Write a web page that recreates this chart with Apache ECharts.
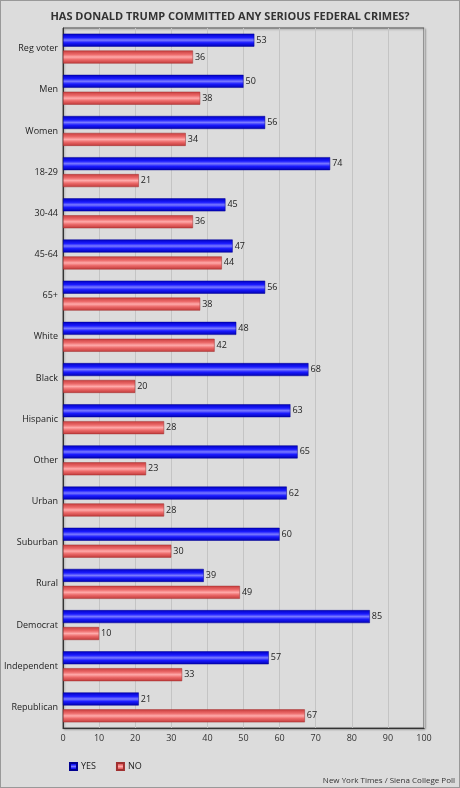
<!DOCTYPE html>
<html>
<head>
<meta charset="utf-8">
<script src="https://cdn.jsdelivr.net/npm/echarts@6/dist/echarts.min.js"></script>
<style>
html,body{margin:0;padding:0;background:#dcdcdc;}
#c{width:460px;height:788px;box-sizing:border-box;border:1px solid #999;}
</style>
</head>
<body>
<div id="c"></div>
<script>
const categories = ["Reg voter","Men","Women","18-29","30-44","45-64","65+","White","Black","Hispanic","Other","Urban","Suburban","Rural","Democrat","Independent","Republican"];
const yesValues = [53,50,56,74,45,47,56,48,68,63,65,62,60,39,85,57,21];
const noValues  = [36,38,34,21,36,44,38,42,20,28,23,28,30,49,10,33,67];
const xTicks = [0,10,20,30,40,50,60,70,80,90,100];

const font = "'Open Sans', sans-serif";
const chart = echarts.init(document.getElementById('c'));
const blueGrad = new echarts.graphic.LinearGradient(0,0,0,1,[
  {offset:0,color:'#0000c0'},{offset:0.3,color:'#1a1aff'},{offset:0.5,color:'#7a7aff'},
  {offset:0.7,color:'#1a1aff'},{offset:1,color:'#0000b0'}]);
const redGrad = new echarts.graphic.LinearGradient(0,0,0,1,[
  {offset:0,color:'#c83c3c'},{offset:0.3,color:'#ec6a6a'},{offset:0.5,color:'#ffaaaa'},
  {offset:0.7,color:'#ec6a6a'},{offset:1,color:'#c03838'}]);

chart.setOption({
  backgroundColor:'#dcdcdc',
  animation:false,
  textStyle:{fontFamily:font},
  title:{text:'HAS DONALD TRUMP COMMITTED ANY SERIOUS FEDERAL CRIMES?',left:'center',top:5,
    textStyle:{fontSize:11,fontWeight:'bold',color:'#333',fontFamily:font}},
  grid:{left:62,right:35,top:27,bottom:59,show:true,borderColor:'#555',borderWidth:1,
    shadowColor:'rgba(0,0,0,0.35)',shadowBlur:2,shadowOffsetX:1,shadowOffsetY:1,backgroundColor:'#dcdcdc'},
  legend:{data:['YES','NO'],left:63,top:756,itemWidth:7,itemHeight:7,itemGap:20,icon:'rect',
    textStyle:{fontSize:9,color:'#222',fontFamily:font,padding:[0,0,0,-1]}},
  graphic:[{type:'text',right:4,bottom:2,style:{text:'New York Times / Siena College Poll',fontSize:8,fill:'#333',fontFamily:font}}],
  xAxis:{type:'value',min:0,max:100,interval:10,
    axisLine:{show:true,lineStyle:{color:'#333'}},axisTick:{show:false},
    axisLabel:{fontSize:9,color:'#333',margin:6,fontFamily:font,
      formatter:v=>xTicks.includes(v)?String(v):''},
    splitLine:{show:true,lineStyle:{color:'#c4c4c4'}}},
  yAxis:{type:'category',data:categories,inverse:true,
    axisLine:{show:true,lineStyle:{color:'#333'}},axisTick:{show:false},
    axisLabel:{fontSize:9,color:'#222',margin:5,fontFamily:font}},
  series:[
    {name:'YES',type:'bar',data:yesValues,barWidth:13,barGap:'30%',
      itemStyle:{color:blueGrad,borderColor:'#000090',borderWidth:0.5},
      label:{show:true,position:'right',distance:2,fontSize:9,color:'#222',fontFamily:font}},
    {name:'NO',type:'bar',data:noValues,barWidth:13,
      itemStyle:{color:redGrad,borderColor:'#a03030',borderWidth:0.5},
      label:{show:true,position:'right',distance:2,fontSize:9,color:'#222',fontFamily:font}}
  ]
});
</script>
</body>
</html>
